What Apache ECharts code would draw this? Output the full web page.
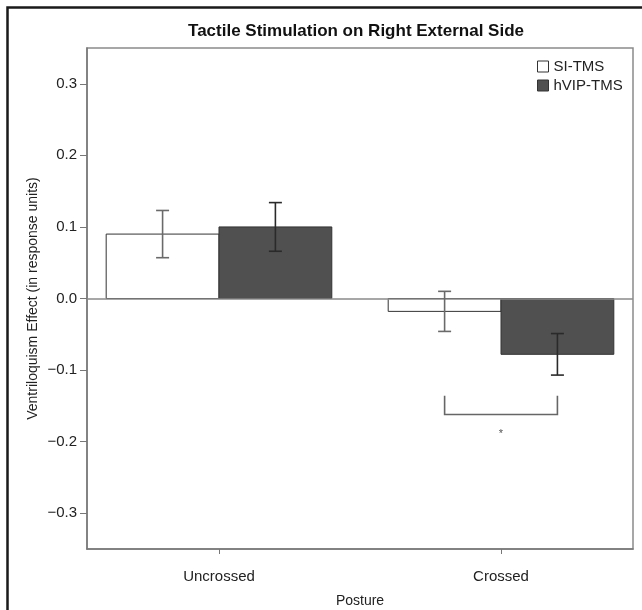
<!DOCTYPE html>
<html><head><meta charset="utf-8">
<script src="https://cdn.jsdelivr.net/npm/echarts@6/dist/echarts.min.js"></script>
<style>html,body{margin:0;padding:0;background:#fff}#c{width:642px;height:610px}</style>
</head><body><div id="c"></div>
<script>
// ---- data ----
const categories = ['Uncrossed', 'Crossed'];
const seriesNames = ['SI-TMS', 'hVIP-TMS'];
const siTms = [0.090, -0.018];
const siTmsErr = [0.033, 0.028];
const hvipTms = [0.100, -0.078];
const hvipTmsErr = [0.034, 0.029];
const yTicks = [-0.3, -0.2, -0.1, 0.0, 0.1, 0.2, 0.3];
const sigCategory = 'Crossed';
const sigTop = -0.136, sigBottom = -0.162, sigLabel = '*', sigLabelY = -0.189;

// ---- layout helpers ----
const FONT = '"Liberation Sans", Arial, Helvetica, sans-serif';
const catPos = categories.map((c, i) => i + 1);
const barHalf = 0.2; // each bar is 0.4 of a category unit
const xMin = 0.532, xMax = 2.468;

function fmtY(v) {
  const a = Math.abs(v).toFixed(1);
  return v < -1e-9 ? '\u2212' + a : a;
}

const barData = (vals) => vals.map((v, i) => [catPos[i], v]);
const errData = (vals, errs) => vals.map((v, i) => [catPos[i], v, errs[i]]);

function barRender(offset, fill) {
  return function (params, api) {
    const x = api.value(0) + offset, v = api.value(1);
    const a = api.coord([x - barHalf, 0]);
    const b = api.coord([x + barHalf, v]);
    return {
      type: 'rect',
      shape: { x: Math.min(a[0], b[0]), y: Math.min(a[1], b[1]), width: Math.abs(b[0] - a[0]), height: Math.abs(b[1] - a[1]) },
      style: { fill: fill, stroke: '#333', lineWidth: 1 }
    };
  };
}
function errRender(offset, color) {
  return function (params, api) {
    const x = api.value(0) + offset, v = api.value(1), e = api.value(2);
    const hi = api.coord([x, v + e]), lo = api.coord([x, v - e]);
    const cap = 6.5;
    const ls = { stroke: color, lineWidth: 1.6 };
    return {
      type: 'group',
      children: [
        { type: 'line', shape: { x1: hi[0], y1: hi[1], x2: lo[0], y2: lo[1] }, style: ls },
        { type: 'line', shape: { x1: hi[0] - cap, y1: hi[1], x2: hi[0] + cap, y2: hi[1] }, style: ls },
        { type: 'line', shape: { x1: lo[0] - cap, y1: lo[1], x2: lo[0] + cap, y2: lo[1] }, style: ls }
      ]
    };
  };
}

const sigIdx = categories.indexOf(sigCategory);
const sigData = [[catPos[sigIdx], sigTop, sigBottom, sigLabelY]];

const chart = echarts.init(document.getElementById('c'), null, { renderer: 'canvas' });
chart.setOption({
  backgroundColor: '#fff',
  animation: false,
  title: {
    text: 'Tactile Stimulation on Right External Side',
    left: 356, top: 23, textAlign: 'center', padding: 0,
    textStyle: { fontFamily: FONT, fontWeight: 'bold', fontSize: 17, color: '#111' }
  },
  legend: {
    orient: 'vertical', left: 537, top: 59, padding: 0, itemGap: 4,
    itemWidth: 11, itemHeight: 11, icon: 'rect',
    textStyle: { fontFamily: FONT, fontSize: 15, color: '#222', lineHeight: 15 },
    data: [
      { name: seriesNames[0], itemStyle: { color: '#fff', borderColor: '#333', borderWidth: 1 } },
      { name: seriesNames[1], itemStyle: { color: '#505050', borderColor: '#333', borderWidth: 1 } }
    ]
  },
  graphic: [{
    type: 'rect', z: 100, silent: true,
    shape: { x: 7.5, y: 7.5, width: 800, height: 800 },
    style: { fill: 'none', stroke: '#1a1a1a', lineWidth: 2.5 }
  }],
  grid: { left: 87, right: 9, top: 48, bottom: 61, outerBoundsMode: 'none', containLabel: false,
    show: true, borderColor: '#8a8a8a', borderWidth: 1.5, backgroundColor: 'transparent' },
  xAxis: {
    type: 'value', min: xMin, max: xMax,
    name: 'Posture', nameLocation: 'middle', nameGap: 45, nameMoveOverlap: false,
    nameTextStyle: { fontFamily: FONT, fontSize: 14, color: '#222' },
    axisLine: { show: true, onZero: false, lineStyle: { color: '#777', width: 1.5 } },
    axisTick: { show: true, customValues: catPos, length: 5, lineStyle: { color: '#777' } },
    axisLabel: { customValues: catPos, margin: 20, formatter: v => categories[Math.round(v) - 1] || '',
      fontFamily: FONT, fontSize: 15, color: '#222' },
    splitLine: { show: false }
  },
  yAxis: {
    type: 'value', min: -0.35, max: 0.35,
    name: 'Ventriloquism Effect (in response units)', nameLocation: 'middle', nameGap: 47, nameRotate: 90, nameMoveOverlap: false,
    nameTextStyle: { fontFamily: FONT, fontSize: 14, color: '#222' },
    axisLine: { show: true, onZero: false, lineStyle: { color: '#777', width: 1.5 } },
    axisTick: { show: true, customValues: yTicks, length: 7, lineStyle: { color: '#777' } },
    axisLabel: { customValues: yTicks, formatter: fmtY, margin: 10, fontFamily: FONT, fontSize: 15, color: '#222' },
    splitLine: { show: false }
  },
  series: [
    {
      name: seriesNames[0], type: 'custom', renderItem: barRender(-barHalf, '#fff'),
      itemStyle: { color: '#fff', borderColor: '#333', borderWidth: 1 },
      encode: { x: 0, y: 1 }, data: barData(siTms), z: 2,
      markLine: { silent: true, symbol: 'none', label: { show: false },
        lineStyle: { color: '#8a8a8a', type: 'solid', width: 1.5 }, data: [{ yAxis: 0 }] }
    },
    {
      name: seriesNames[1], type: 'custom', renderItem: barRender(barHalf, '#505050'),
      itemStyle: { color: '#505050', borderColor: '#333', borderWidth: 1 },
      encode: { x: 0, y: 1 }, data: barData(hvipTms), z: 2
    },
    {
      name: seriesNames[0] + ' error', type: 'custom', renderItem: errRender(-barHalf, '#6a6a6a'),
      encode: { x: 0, y: [1, 2] }, data: errData(siTms, siTmsErr), z: 5
    },
    {
      name: seriesNames[1] + ' error', type: 'custom', renderItem: errRender(barHalf, '#2a2a2a'),
      encode: { x: 0, y: [1, 2] }, data: errData(hvipTms, hvipTmsErr), z: 5
    },
    {
      name: 'significance', type: 'custom', z: 5,
      encode: { x: 0, y: [1, 2, 3] }, data: sigData,
      renderItem: function (params, api) {
        const x = api.value(0);
        const l1 = api.coord([x - barHalf, api.value(1)]);
        const l2 = api.coord([x - barHalf, api.value(2)]);
        const r2 = api.coord([x + barHalf, api.value(2)]);
        const r1 = api.coord([x + barHalf, api.value(1)]);
        const s = api.coord([x, api.value(3)]);
        return {
          type: 'group',
          children: [
            { type: 'polyline', shape: { points: [l1, l2, r2, r1] }, style: { stroke: '#666', lineWidth: 1.6, fill: 'none' } },
            { type: 'text', x: s[0], y: s[1], style: { text: sigLabel, fill: '#555', fontSize: 11, fontFamily: FONT, align: 'center', verticalAlign: 'middle' } }
          ]
        };
      }
    }
  ]
});
</script>
</body></html>
